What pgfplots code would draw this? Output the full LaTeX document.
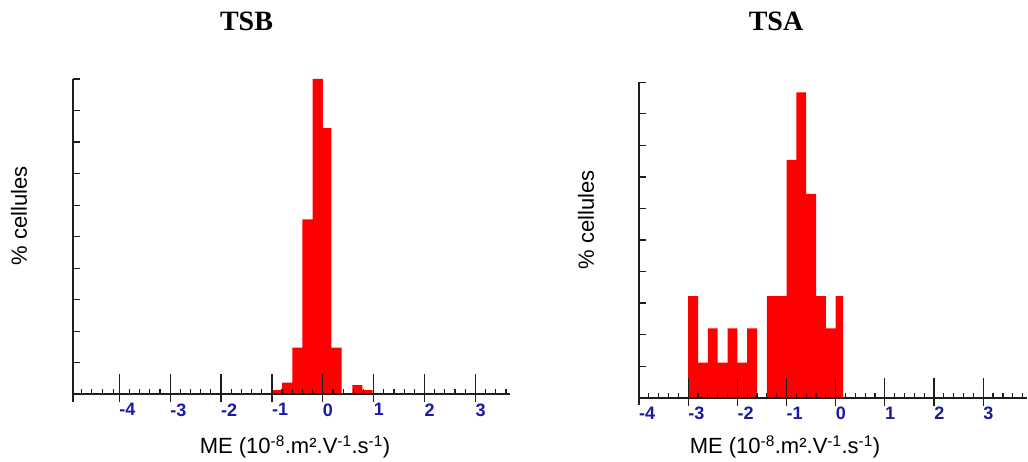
\documentclass[border=0pt]{standalone}
\usepackage{pgfplots}
\pgfplotsset{compat=1.18}
\usetikzlibrary{calc}
\usepackage{fontspec}
\setmainfont{Liberation Serif}
\setsansfont{Liberation Sans}
\definecolor{tickblue}{RGB}{25,25,165}
\definecolor{barred}{RGB}{255,0,0}
\definecolor{axcol}{RGB}{30,30,30}
\tikzset{tk/.style={line width=1.2pt, color=axcol}, axl/.style={line width=1.8pt, color=axcol}}
\pgfplotsset{
 histo/.style={
   scale only axis, clip=false,
   axis x line=middle, axis y line=left,
   axis line style={-, line width=1.8pt, color=axcol},
   hide obscured x ticks=false,
   ymin=-0.235, ymax=10,
   xtick={-4,-3,-2,-1,0,1,2,3}, xticklabels={-4,-3,-2,-1,0,1,2,3},
   ytick=\empty,
   major tick length=0pt, minor tick length=0pt,
   xticklabel style={anchor=north west, inner sep=0pt, yshift=-9pt,
     font=\fontsize{18}{18}\selectfont\sffamily\bfseries, text=tickblue},
 },
}
\begin{document}
\begin{tikzpicture}
\useasboundingbox (0,0) rectangle (1028pt,462pt);
% ---------- TSB ----------
\begin{axis}[histo, at={(73pt,60.3pt)}, anchor=south west,
  width=437pt, height=322.7pt, xmin=-4.91, xmax=3.68]
\addplot[const plot mark left, fill=barred, draw=none] coordinates {
 (-1.0,0.13) (-0.8,0.37) (-0.6,1.48) (-0.4,5.55) (-0.2,10.0) (0.0,8.44)
 (0.17,1.48) (0.37,0) (0.58,0.29) (0.78,0.13) (0.98,0)} \closedcycle;
\coordinate (Lo) at (axis cs:0,0);
\coordinate (Lx) at (axis cs:1,0);
\coordinate (Ly0) at (axis cs:-4.91,0);
\coordinate (Ly) at (axis cs:-4.91,1);
\end{axis}
\draw[axl] ($(Lo)!-4.91!(Lx)$) -- ($(Lo)!3.68!(Lx)$);
\foreach \v in {-4,...,3} \draw[tk] ($(Lo)!\v!(Lx)$) ++(0,-8pt) -- ++(0,28pt);
\foreach \v in {-4.75,-4.54,-4.33,-4.12,-3.8,-3.6,...,3.6} \draw[tk] ($(Lo)!\v!(Lx)$) -- ++(0,5pt);
\foreach \v in {1,...,10} \draw[tk] ($(Ly0)!\v!(Ly)$) -- ++(6.7pt,0);
% ---------- TSA ----------
\begin{axis}[histo, at={(639pt,56.9pt)}, anchor=south west,
  width=388pt, height=322.8pt, xmin=-4, xmax=3.89]
\addplot[const plot mark left, fill=barred, draw=none] coordinates {
 (-3.0,3.22) (-2.8,1.11) (-2.6,2.2) (-2.4,1.11) (-2.2,2.2) (-2.0,1.11) (-1.8,2.2)
 (-1.6,0) (-1.4,3.22) (-1.2,3.22) (-1.0,7.54) (-0.8,9.68) (-0.6,6.46)
 (-0.4,3.22) (-0.2,2.2) (0.0,3.22) (0.15,0)} \closedcycle;
\coordinate (Ro) at (axis cs:0,0);
\coordinate (Rx) at (axis cs:1,0);
\coordinate (Ry0) at (axis cs:-4,0);
\coordinate (Ry) at (axis cs:-4,1);
\end{axis}
\draw[axl] ($(Ro)!-4!(Rx)$) -- ($(Ro)!3.89!(Rx)$);
\foreach \v in {-3,...,3} \draw[tk] ($(Ro)!\v!(Rx)$) ++(0,-8pt) -- ++(0,28pt);
\foreach \v in {-3.8,-3.6,...,3.8} \draw[tk] ($(Ro)!\v!(Rx)$) -- ++(0,5pt);
\foreach \v in {1,...,10} \draw[tk] ($(Ry0)!\v!(Ry)$) -- ++(6.7pt,0);
% ---------- texts ----------
\node[font=\fontsize{28}{30}\selectfont\bfseries] at (246.5pt,441pt) {TSB};
\node[font=\fontsize{28}{30}\selectfont\bfseries] at (776pt,441pt) {TSA};
\node[rotate=90, font=\fontsize{22}{24}\selectfont\sffamily] at (19pt,246pt) {\% cellules};
\node[rotate=90, font=\fontsize{22}{24}\selectfont\sffamily] at (586pt,242pt) {\% cellules};
\node[font=\fontsize{22}{24}\selectfont\sffamily] at (295pt,15pt) {ME (10\textsuperscript{-8}.m².V\textsuperscript{-1}.s\textsuperscript{-1})};
\node[font=\fontsize{22}{24}\selectfont\sffamily] at (785pt,15pt) {ME (10\textsuperscript{-8}.m².V\textsuperscript{-1}.s\textsuperscript{-1})};
\end{tikzpicture}
\end{document}
